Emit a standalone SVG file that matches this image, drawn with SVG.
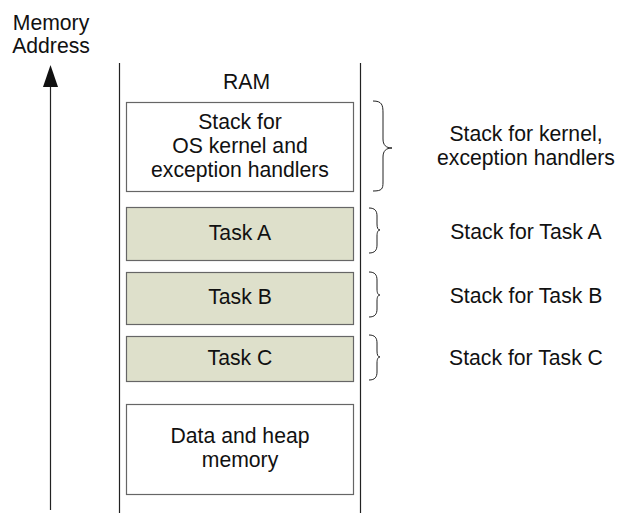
<svg xmlns="http://www.w3.org/2000/svg" width="617" height="513" viewBox="0 0 617 513">
<style>
text{font-family:"Liberation Sans",Arial,sans-serif;font-size:21.2px;fill:#111;text-anchor:middle}
.box{fill:#fff;stroke:#666;stroke-width:1.2}
.task{fill:#dee0cb;stroke:#666;stroke-width:1.2}
.line{stroke:#222;stroke-width:1.2;fill:none}
.brace{stroke:#222;stroke-width:1;fill:none}
</style>
<rect width="617" height="513" fill="#fff"/>
<g id="axis">
<text x="51" y="30">Memory</text>
<text x="51" y="53">Address</text>
<line class="line" x1="50.5" y1="84" x2="50.5" y2="510"/>
<polygon points="50.5,65 43,87 58,87" fill="#111"/>
</g>
<g id="connectors">
<line class="line" x1="119.5" y1="63" x2="119.5" y2="513"/>
<line class="line" x1="360.5" y1="63" x2="360.5" y2="513"/>
<path class="brace" d="M373,101 C382,101 383,105 383,113 L383,139 C383,145 386,148 392,148 C386,148 383,151 383,157 L383,182 C383,189 382,191 373,191"/>
<path class="brace" d="M369,208 C375,208 377,211 377,216 L377,224 C377,228 378,230 380,230 C378,230 377,232 377,236 L377,245 C377,250 375,253 369,253"/>
<path class="brace" d="M369,272 C375,272 377,275 377,280 L377,289 C377,293 378,295 380,295 C378,295 377,297 377,301 L377,309 C377,314 375,317 369,317"/>
<path class="brace" d="M369,335 C375,335 377,338 377,343 L377,351 C377,355 378,357 380,357 C378,357 377,359 377,363 L377,372 C377,377 375,380 369,380"/>
</g>
<g id="ram"><text x="246.5" y="89">RAM</text></g>
<g id="kernel-stack">
<rect class="box" x="126.5" y="102.5" width="227" height="89"/>
<text x="240" y="129">Stack for</text>
<text x="240" y="153">OS kernel and</text>
<text x="240" y="177">exception handlers</text>
</g>
<g id="task-a">
<rect class="task" x="126.5" y="207.5" width="227" height="53"/>
<text x="240" y="240">Task A</text>
</g>
<g id="task-b">
<rect class="task" x="126.5" y="272.5" width="227" height="52"/>
<text x="240" y="304">Task B</text>
</g>
<g id="task-c">
<rect class="task" x="126.5" y="336.5" width="227" height="45"/>
<text x="240" y="365">Task C</text>
</g>
<g id="data-heap">
<rect class="box" x="126.5" y="404.5" width="227" height="90"/>
<text x="240" y="443">Data and heap</text>
<text x="240" y="467">memory</text>
</g>
<g id="labels">
<text x="526" y="141">Stack for kernel,</text>
<text x="526" y="165">exception handlers</text>
<text x="526" y="239">Stack for Task A</text>
<text x="526" y="303">Stack for Task B</text>
<text x="526" y="365">Stack for Task C</text>
</g>
</svg>
